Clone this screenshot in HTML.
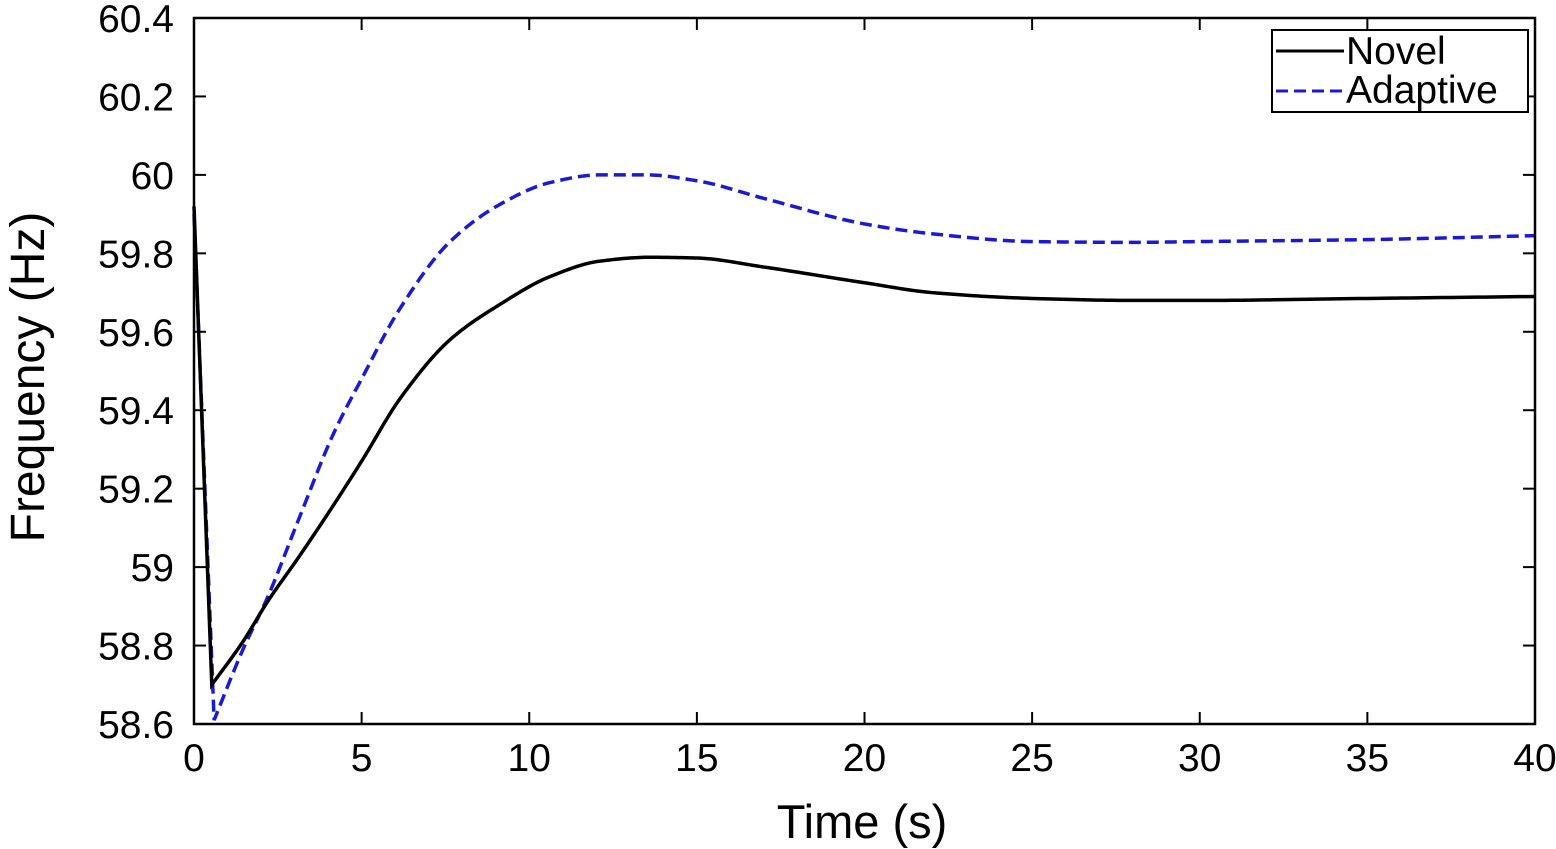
<!DOCTYPE html>
<html><head><meta charset="utf-8"><style>
body{margin:0;background:#fff;}
svg{display:block;font-family:"Liberation Sans",Arial,sans-serif;}
</style></head><body>
<svg id="chart" width="1556" height="849">
<rect x="0" y="0" width="1556" height="849" fill="#fff"/>
<g id="grid"></g>
<g id="series"></g>
<rect x="194" y="18" width="1341" height="706" fill="none" stroke="#000" stroke-width="2.5"/>
<text x="862" y="838" font-size="47" text-anchor="middle">Time (s)</text>
<text transform="translate(44,377) rotate(-90)" font-size="48" text-anchor="middle">Frequency (Hz)</text>
<g>
<rect x="1272" y="30" width="256" height="82" fill="#fff" stroke="#000" stroke-width="2"/>
<line x1="1276" y1="51" x2="1344" y2="51" stroke="#000" stroke-width="3"/>
<text x="1346" y="64" font-size="39">Novel</text>
<line x1="1276" y1="91" x2="1344" y2="91" stroke="#1a1ad6" stroke-width="3" stroke-dasharray="12,6"/>
<text x="1346" y="103" font-size="39">Adaptive</text>
</g>
</svg>
<script>
const xTicks=[0,5,10,15,20,25,30,35,40];
const yTicks=[58.6,58.8,59,59.2,59.4,59.6,59.8,60,60.2,60.4];
const yTickLabels=["58.6","58.8","59","59.2","59.4","59.6","59.8","60","60.2","60.4"];
const novelT=[0,0.53,1.46,2.18,3.16,4.1,5,6.15,7.64,9.13,10.6,12.1,13.6,15,17,20,22,25,28,30,35,40];
const novelF=[59.92,58.70,58.81,58.91,59.03,59.15,59.27,59.43,59.58,59.67,59.74,59.78,59.79,59.788,59.765,59.725,59.70,59.685,59.68,59.68,59.685,59.69];
const adaptT=[0,0.6,1.46,2.18,3.16,4.16,5,6.15,7.64,9.13,10.6,12.1,13.5,15,17,20,22,25,28,30,35,40];
const adaptF=[59.90,58.61,58.79,58.92,59.13,59.34,59.48,59.66,59.83,59.925,59.98,60.0,60.0,59.985,59.94,59.875,59.85,59.83,59.828,59.83,59.835,59.845];
const X0=194,X1=1535,Y0=724,Y1=18;
const xs=t=>X0+(t-0)/(40-0)*(X1-X0);
const ys=v=>Y0-(v-58.6)/(60.4-58.6)*(Y0-Y1);
const NS="http://www.w3.org/2000/svg";
const grid=document.getElementById('grid'),ser=document.getElementById('series');
xTicks.forEach(t=>{
 const l=document.createElementNS(NS,'line');
 
 
 l.setAttribute('x1',xs(t));l.setAttribute('x2',xs(t));l.setAttribute('y1',Y0);l.setAttribute('y2',Y0-12);l.setAttribute('stroke','#000');l.setAttribute('stroke-width','2');grid.appendChild(l);
 const l2=document.createElementNS(NS,'line');
 
 
 l2.setAttribute('x1',xs(t));l2.setAttribute('x2',xs(t));l2.setAttribute('y1',Y1);l2.setAttribute('y2',Y1+12);l2.setAttribute('stroke','#000');l2.setAttribute('stroke-width','2');grid.appendChild(l2);
 const tx=document.createElementNS(NS,'text');
 
 
 tx.setAttribute('x',xs(t));tx.setAttribute('y',771);tx.setAttribute('font-size','39');tx.setAttribute('text-anchor','middle');tx.textContent=t;grid.appendChild(tx);
});
yTicks.forEach((v,i)=>{
 const l=document.createElementNS(NS,'line');
 
 
 l.setAttribute('x1',X0);l.setAttribute('x2',X0+12);l.setAttribute('y1',ys(v));l.setAttribute('y2',ys(v));l.setAttribute('stroke','#000');l.setAttribute('stroke-width','2');grid.appendChild(l);
 const l2=document.createElementNS(NS,'line');
 
 
 l2.setAttribute('x1',X1);l2.setAttribute('x2',X1-12);l2.setAttribute('y1',ys(v));l2.setAttribute('y2',ys(v));l2.setAttribute('stroke','#000');l2.setAttribute('stroke-width','2');grid.appendChild(l2);
 const tx=document.createElementNS(NS,'text');
 
 
 tx.setAttribute('x',174);tx.setAttribute('y',ys(v)+14);tx.setAttribute('font-size','39');tx.setAttribute('text-anchor','end');tx.textContent=yTickLabels[i];grid.appendChild(tx);
});
// first segment (initial drop) is straight; the rest is a smooth monotone cubic
function pathD(T,F){
 let d='M'+xs(T[0])+','+ys(F[0])+' L'+xs(T[1])+','+ys(F[1]);
 const t=T.slice(1),f=F.slice(1),n=t.length;
 const h=[],s=[];
 for(let i=0;i<n-1;i++){h.push(t[i+1]-t[i]);s.push((f[i+1]-f[i])/h[i]);}
 const m=new Array(n);
 m[0]=s[0];m[n-1]=s[n-2];
 for(let i=1;i<n-1;i++){
  if(s[i-1]*s[i]<=0)m[i]=0;
  else{const w1=2*h[i]+h[i-1],w2=h[i]+2*h[i-1];m[i]=(w1+w2)/(w1/s[i-1]+w2/s[i]);}
 }
 for(let i=0;i<n-1;i++){
  for(let k=1;k<=20;k++){
   const u=k/20,tt=t[i]+u*h[i];
   const h00=2*u*u*u-3*u*u+1,h10=u*u*u-2*u*u+u,h01=-2*u*u*u+3*u*u,h11=u*u*u-u*u;
   const v=h00*f[i]+h10*h[i]*m[i]+h01*f[i+1]+h11*h[i]*m[i+1];
   d+=' L'+xs(tt).toFixed(2)+','+ys(v).toFixed(2);
  }
 }
 return d;
}
const pa=document.createElementNS(NS,'path');


pa.setAttribute('d',pathD(adaptT,adaptF));pa.setAttribute('fill','none');pa.setAttribute('stroke','#1a1ad6');pa.setAttribute('stroke-width','3.5');pa.setAttribute('stroke-dasharray','12,6');ser.appendChild(pa);
const pn=document.createElementNS(NS,'path');


pn.setAttribute('d',pathD(novelT,novelF));pn.setAttribute('fill','none');pn.setAttribute('stroke','#000');pn.setAttribute('stroke-width','3.5');ser.appendChild(pn);
</script>
</body></html>
